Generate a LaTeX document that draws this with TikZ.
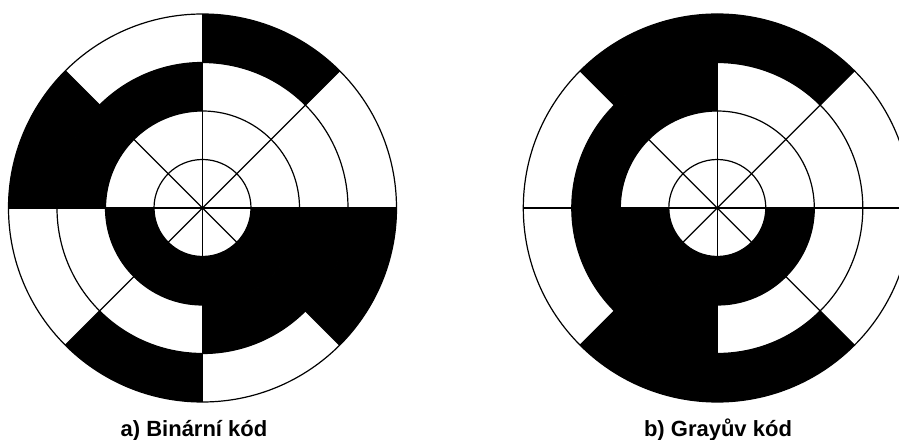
\documentclass[tikz,border=0pt]{standalone}
\usepackage{fontspec}
\setmainfont{Liberation Sans}
\newcommand{\annseg}[4]{\fill[black] (#1:#3) arc[start angle=#1,end angle=#2,radius=#3] -- (#2:#4) arc[start angle=#2,end angle=#1,radius=#4] -- cycle;}
\newcommand{\disklines}{%
  \foreach \r in {48.5,97,145.5,194} \draw[ring] (0,0) circle[radius=\r];
  \foreach \a in {0,45,...,315} \draw[ring] (0,0) -- (\a:194);
}
\begin{document}
\begin{tikzpicture}[x=1pt,y=1pt,
  ring/.style={draw=black,line width=1.2pt},
  caption/.style={font=\bfseries\fontsize{22}{26}\selectfont,anchor=base,inner sep=0pt}]
\clip (0,0) rectangle (899,439);
\fill[white] (0,0) rectangle (899,439);
% a) binary disk
\begin{scope}[shift={(202.5,231)}]
  \coordinate (ca) at (0,0);
  \annseg{180}{360}{48.5}{97}
  \annseg{90}{180}{97}{145.5}
  \annseg{270}{360}{97}{145.5}
  \annseg{45}{90}{145.5}{194}
  \annseg{135}{180}{145.5}{194}
  \annseg{225}{270}{145.5}{194}
  \annseg{315}{360}{145.5}{194}
  \disklines
\end{scope}
% b) Gray disk
\begin{scope}[shift={(717.3,231)}]
  \coordinate (cb) at (0,0);
  \annseg{180}{360}{48.5}{97}
  \annseg{90}{270}{97}{145.5}
  \annseg{45}{135}{145.5}{194}
  \annseg{225}{315}{145.5}{194}
  \disklines
\end{scope}
\node[caption] (la) at (194,3) {a) Binární kód};
\node[caption] (lb) at (718,3) {b) Grayův kód};
\end{tikzpicture}
\end{document}
